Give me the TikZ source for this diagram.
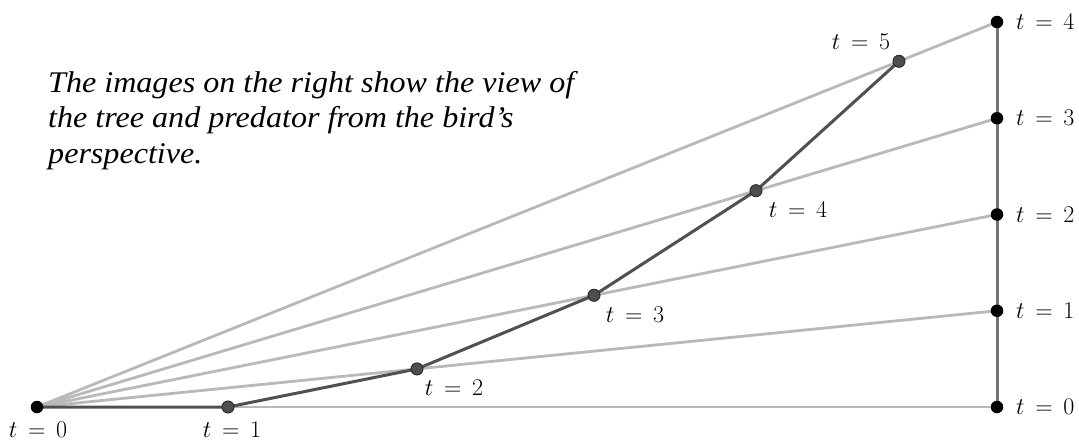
\RequirePackage{fix-cm}
\documentclass[tikz,border=0pt]{standalone}
\usepackage[no-math]{fontspec}
\newfontfamily\txtfont[FakeStretch=1.07]{Liberation Serif}
\definecolor{lightln}{RGB}{185,185,185}
\definecolor{darkln}{RGB}{80,80,80}
\definecolor{vertln}{RGB}{115,115,115}
\definecolor{pdot}{RGB}{78,78,78}
\definecolor{pdotb}{RGB}{45,45,45}
\tikzset{
  rdot/.style={circle,fill=black,minimum size=12.5pt,inner sep=0pt},
  pathdot/.style={circle,fill=pdot,draw=pdotb,line width=1pt,minimum size=12pt,inner sep=0pt},
  sightline/.style={lightln,line width=2.8pt},
  tower/.style={vertln,line width=3pt},
  flight/.style={darkln,line width=3pt,line join=round},
  tlab/.style={inner sep=0pt,font=\fontsize{24}{28}\selectfont},
}
\newcommand{\tl}[1]{$t\mathrel{\,=\,}#1$}
\begin{document}
\begin{tikzpicture}[x=1pt,y=-1pt]
\fill[white] (0,0) rectangle (1079,441);
\useasboundingbox (0,0) rectangle (1079,441);
% coordinates
\coordinate (cO) at (37,407);
\coordinate (c0) at (997,407);
\coordinate (c1) at (997,310.75);
\coordinate (c2) at (997,214.5);
\coordinate (c3) at (997,118.25);
\coordinate (c4) at (997,22);
\coordinate (p1) at (228,407);
\coordinate (p2) at (417,368.9);
\coordinate (p3) at (594,295.3);
\coordinate (p4) at (756,190.7);
\coordinate (p5) at (899,61.3);
% sight lines
\foreach \k in {0,...,4}{\draw[sightline] (cO) -- (c\k);}
% tower
\draw[tower] (c0) -- (c4);
% flight path
\draw[flight] (cO) -- (p1) -- (p2) -- (p3) -- (p4) -- (p5);
% dots
\node[rdot] (O) at (cO) {};
\foreach \k in {0,...,4}{\node[rdot] (R\k) at (c\k) {};}
\foreach \k in {1,...,5}{\node[pathdot] (P\k) at (p\k) {};}
% right labels
\foreach \k in {0,...,4}{\node[tlab,anchor=west] (LR\k) at ([xshift=19pt]c\k) {\tl{\k}};}
% path labels
\node[tlab] (L0) at (38,430) {\tl{0}};
\node[tlab] (L1) at (232,430) {\tl{1}};
\node[tlab] (L2) at (454,388) {\tl{2}};
\node[tlab] (L3) at (635,315) {\tl{3}};
\node[tlab] (L4) at (798,210) {\tl{4}};
\node[tlab] (L5) at (861,42) {\tl{5}};
% caption
\node[anchor=base west,align=left,inner sep=0pt,font=\txtfont\itshape\fontsize{30}{35.5}\selectfont] (cap) at (48,163.5)
{The images on the right show the view of\\the tree and predator from the bird’s\\perspective.};
\end{tikzpicture}
\end{document}
